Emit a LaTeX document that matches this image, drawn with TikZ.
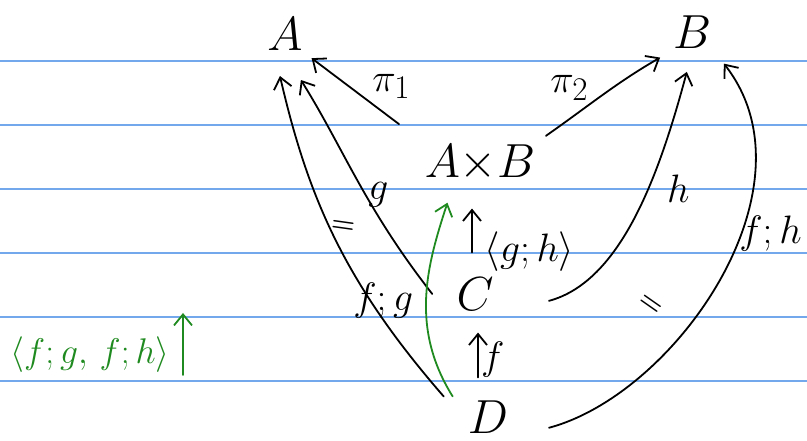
\documentclass[tikz,border=0pt]{standalone}
\usepackage{xcolor}
\usepackage{tikz}
\usetikzlibrary{arrows.meta}
\definecolor{ruleBlue}{HTML}{73A9EC}
\definecolor{inkGreen}{HTML}{1F8A1F}
\colorlet{ink}{black}

\begin{document}
\begin{tikzpicture}[x=1bp, y=1bp,
  every node/.style={text=ink},
  obj/.style={font=\Huge, scale=1.93, transform shape, inner sep=2bp},
  lab/.style={font=\Huge, scale=1.6, transform shape, inner sep=1bp},
  eqsign/.style={font=\Huge\boldmath, scale=1.1, transform shape, inner sep=0pt},
  arr/.style={-{Straight Barb[length=11bp, width=18bp]}, draw=ink,
              line width=1.8bp, line cap=round, line join=round},
  greenarr/.style={arr, draw=inkGreen},
  rule/.style={draw=ruleBlue, line width=1.4bp},
]
\useasboundingbox (0,0) rectangle (807,441);

% --- Ruled paper -----------------------------------------------------
\foreach \ly in {380,316,252,188,124,60}
  \draw[rule] (0,\ly) -- (807,\ly);

% --- Objects ---------------------------------------------------------
\node[obj] (A)  at (285,407) {$A$};
\node[obj] (B)  at (692,409) {$B$};
\node[obj] (AB) at (480,278) {$A{\times}B$};
\node[obj] (C)  at (475,147) {$C$};
\node[obj] (D)  at (488,24)  {$D$};

% --- Projections -----------------------------------------------------
\draw[arr, shorten <=27bp, shorten >=6bp]
  (AB.north west) -- node[lab, pos=0.45, above right] {$\pi_1$} (A.south east);
\draw[arr, shorten <=8bp, shorten >=10bp]
  (AB.north east) to[out=35, in=-150]
  node[lab, pos=0.4, above left] {$\pi_2$} (B.south west);

% --- Legs out of C ---------------------------------------------------
\draw[arr, shorten >=30bp]
  ([xshift=-20bp]C.west) to[out=128, in=-58]
  node[lab, pos=0.42, right] {$g$} (A.south);
\draw[arr, shorten <=53bp, shorten >=20bp]
  (C.south east) to[out=15, in=-105]
  node[lab, pos=0.6, right=12bp] {$h$} (B.south);
\draw[arr, shorten <=21bp, shorten >=23bp]
  ([xshift=-3bp]C.north) --
  node[lab, pos=0.25, right=6bp] {$\langle g;h\rangle$} ([xshift=-8bp]AB.south);

% --- Legs out of D ---------------------------------------------------
\draw[arr, shorten >=22bp]
  ([xshift=-20bp]D.north west) to[out=131, in=-77]
  node[lab, pos=0.3, xshift=8bp] {$f;g$} ([xshift=-10bp]A.south);
\draw[arr, shorten <=38bp, shorten >=14bp]
  (D.south east) to[out=15, in=-52]
  node[lab, pos=0.6, right] {$f;h$} (B.south east);
\draw[arr, shorten <=19bp, shorten >=18bp]
  ([xshift=-10bp]D.north) --
  node[lab, pos=0.45, right] {$f$} ([xshift=3bp]C.south);

% commuting triangles
\node[eqsign, rotate=-8]  (eqL) at (343,214) {$=$};
\node[eqsign, rotate=-35] (eqR) at (650,136) {$=$};

% --- Composite pairing, in green -------------------------------------
\draw[greenarr, shorten >=18bp]
  ([xshift=-11bp]D.north west) to[out=122, in=-108] ([xshift=-27bp]AB.south);
\node[lab, scale=0.9, text=inkGreen] (pairing) at (90,86) {$\langle f;g,\,f;h\rangle$};
\coordinate (pairTail) at (183,66);
\coordinate (pairHead) at (183,128);
\draw[greenarr] (pairTail) -- (pairHead);
\end{tikzpicture}
\end{document}
